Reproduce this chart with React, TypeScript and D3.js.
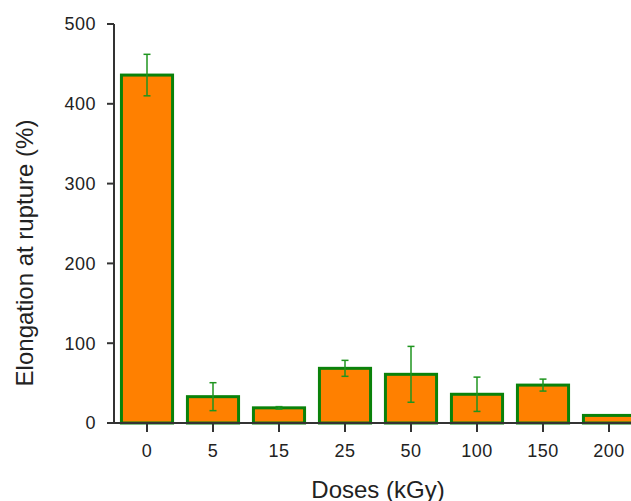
import React from "react";
import * as d3 from "d3";

const doses = ["0", "5", "15", "25", "50", "100", "150", "200"];
const elongation = [436, 33, 19, 68.5, 61, 36, 47.5, 9.5];
const errors = [26, 17.5, 1.5, 10, 35, 21.5, 7.5, 0];
const yTicks = [0, 100, 200, 300, 400, 500];

const W = 631;
const H = 501;

export default function App() {
  const x = d3
    .scaleBand<string>()
    .domain(doses)
    .range([114, 642])
    .paddingInner(0.18)
    .paddingOuter(0.09);
  const y = d3.scaleLinear().domain([0, 500]).range([423, 24]);
  const bw = x.bandwidth();
  const font = "'Liberation Sans', Arial, sans-serif";
  const axisColor = "#333";
  const green = "#0a820a";
  const orange = "#ff8000";

  return (
    <svg
      width={W}
      height={H}
      style={{ position: "absolute", left: 0, top: 0, background: "#fff" }}
      fontFamily={font}
    >
      {/* bars */}
      {doses.map((d, i) => (
        <rect
          key={"b" + d}
          x={(x(d) as number) + 1.5}
          y={y(elongation[i])}
          width={bw - 3}
          height={y(0) - y(elongation[i])}
          fill={orange}
          stroke={green}
          strokeWidth={3}
        />
      ))}
      {/* error bars */}
      {doses.map((d, i) => {
        if (!errors[i]) return null;
        const cx = (x(d) as number) + bw / 2;
        const top = y(elongation[i] + errors[i]);
        const bot = y(elongation[i] - errors[i]);
        return (
          <g key={"e" + d} stroke="#1f951f" strokeWidth={1.5}>
            <line x1={cx} x2={cx} y1={top} y2={bot} />
            <line x1={cx - 3.5} x2={cx + 3.5} y1={top} y2={top} />
            <line x1={cx - 3.5} x2={cx + 3.5} y1={bot} y2={bot} />
          </g>
        );
      })}
      {/* y axis */}
      <line x1={114} x2={114} y1={y(500)} y2={y(0)} stroke={axisColor} strokeWidth={2} />
      {yTicks.map((t) => (
        <g key={"yt" + t}>
          <line x1={107} x2={114} y1={y(t)} y2={y(t)} stroke={axisColor} strokeWidth={2} />
          <text
            x={96}
            y={y(t)}
            dy="0.36em"
            textAnchor="end"
            fontSize={18}
            fill="#222"
            letterSpacing={0.5}
          >
            {t}
          </text>
        </g>
      ))}
      {/* x axis */}
      <line x1={107} x2={W} y1={y(0)} y2={y(0)} stroke={axisColor} strokeWidth={2} />
      {doses.map((d) => {
        const cx = (x(d) as number) + bw / 2;
        return (
          <g key={"xt" + d}>
            <line x1={cx} x2={cx} y1={y(0)} y2={y(0) + 9} stroke={axisColor} strokeWidth={2} />
            <text
              x={cx}
              y={457}
              textAnchor="middle"
              fontSize={18}
              fill="#222"
              letterSpacing={0.5}
            >
              {d}
            </text>
          </g>
        );
      })}
      {/* titles */}
      <text x={378} y={498} textAnchor="middle" fontSize={24} fill="#222">
        Doses (kGy)
      </text>
      <text
        transform={`translate(33, 253) rotate(-90)`}
        textAnchor="middle"
        fontSize={24}
        fill="#222"
      >
        Elongation at rupture (%)
      </text>
    </svg>
  );
}
